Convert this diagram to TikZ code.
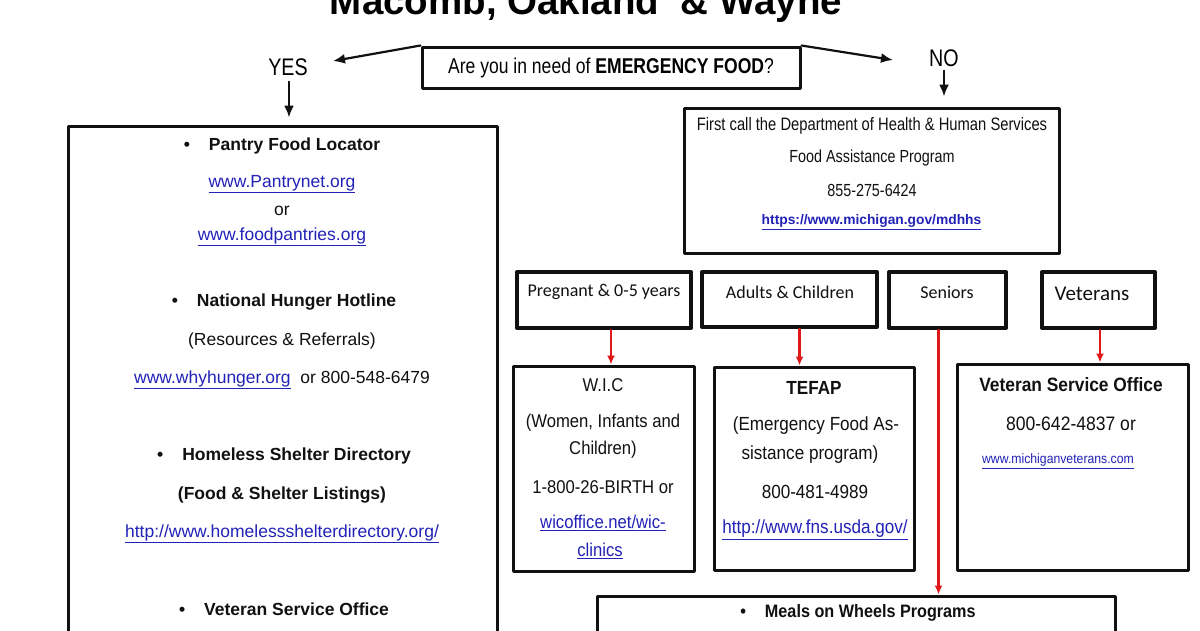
\documentclass[tikz,border=0pt]{standalone}
\usepackage{fontspec}
\setmainfont{Liberation Sans}
\newfontfamily\narrowsans{Liberation Sans}[FakeStretch=0.82]
\newfontfamily\semisans{Liberation Sans}[FakeStretch=0.9]
\newfontfamily\calibri{Carlito}
\usetikzlibrary{arrows.meta,calc}
\definecolor{foodInk}{HTML}{111111}
\definecolor{foodBlue}{HTML}{2222B8}
\definecolor{foodRed}{HTML}{E01818}
\newcommand{\weblink}[1]{{\color{foodBlue}\underline{#1}}}

\begin{document}
\begin{tikzpicture}[x=1pt,y=-1pt,>=Latex,line cap=round,line join=round]
\clip (0,0) rectangle (1200,630);
\path[fill=white] (0,0) rectangle (1200,630);
\tikzset{box/.style={draw=foodInk,line width=3pt,inner sep=0pt},catbox/.style={draw=foodInk,line width=4pt,inner sep=0pt},blackarrow/.style={draw=foodInk,line width=2.2pt,-{Latex[length=12pt,width=10pt]}},redarrow/.style={draw=foodRed,line width=2.4pt,-{Latex[length=9pt,width=8pt]}},txt/.style={inner sep=0pt,text=foodInk,font=\fontsize{17.5}{21}\selectfont},head/.style={txt,font=\fontsize{17.5}{21}\selectfont\bfseries},cat/.style={inner sep=0pt,text=foodInk,font=\calibri\fontsize{18}{21}\selectfont}}
% title and question
\node[anchor=base,inner sep=0pt,font=\fontsize{38.5}{40}\selectfont\bfseries] (title) at (586,14) {Macomb, Oakland\ \ \& Wayne};
\node[box,minimum width=378,minimum height=41,font=\narrowsans\fontsize{21.4}{24}\selectfont] (question) at (611,67.5) {Are you in need of \textbf{EMERGENCY FOOD}?};
\node[inner sep=0pt,font=\narrowsans\fontsize{24}{26}\selectfont] (yes) at (288,67) {YES};
\node[inner sep=0pt,font=\narrowsans\fontsize{24}{26}\selectfont] (no) at (944,58) {NO};
\coordinate (yestip) at (333,61); \coordinate (notip) at (893,60);
\draw[blackarrow] (question.north west) -- (yestip);
\draw[blackarrow] (question.north east) -- (notip);
% YES side
\node[box,minimum width=429,minimum height=560] (pantries) at (282.5,406) {};
\draw[blackarrow,shorten >=7pt] ([xshift=1pt,yshift=-6pt]yes.south) -- ([xshift=1pt]yes.south |- pantries.north);
\node[head] (pantryhead) at (282,146) {\textbullet\hspace{19pt}Pantry Food Locator};
\node[txt] (pantryurl) at (282,184) {\weblink{www.Pantrynet.org}};
\node[txt] (pantryor) at (282,211) {or};
\node[txt] (pantryalt) at (282,237) {\weblink{www.foodpantries.org}};
\node[head] (hungerhead) at (284,302) {\textbullet\hspace{19pt}National Hunger Hotline};
\node[txt] (hungernote) at (282,341) {(Resources \& Referrals)};
\node[txt] (hungerline) at (282,380) {\weblink{www.whyhunger.org}\ \ or 800-548-6479};
\node[head] (shelterhead) at (284,456) {\textbullet\hspace{19pt}Homeless Shelter Directory};
\node[head] (shelternote) at (282,495) {(Food \& Shelter Listings)};
\node[txt] (shelterurl) at (282,534) {\weblink{http://www.homelessshelterdirectory.org/}};
\node[head] (veteranhead) at (284,609) {\textbullet\hspace{19pt}Veteran Service Office};
% NO side
\node[box,minimum width=375,minimum height=145] (dhhs) at (871.5,180.5) {};
\draw[blackarrow,shorten >=10pt] ([yshift=-4pt]no.south) -- (no.south |- dhhs.north);
\node[txt,font=\narrowsans\fontsize{18}{21}\selectfont] (dhhshead) at (872,126) {First call the Department of Health \& Human Services};
\node[txt,font=\narrowsans\fontsize{17.5}{21}\selectfont] (dhhsprog) at (872,158) {Food Assistance Program};
\node[txt,font=\narrowsans\fontsize{17.5}{21}\selectfont] (dhhsphone) at (872,190) {855-275-6424};
\node[txt,font=\fontsize{13.8}{16}\selectfont\bfseries] (dhhsurl) at (871.5,222) {\weblink{https://www.michigan.gov/mdhhs}};
% groups
\node[catbox,minimum width=174,minimum height=56] (preg) at (604,300) {};
\node[catbox,minimum width=175,minimum height=55] (adults) at (789.5,299.5) {};
\node[catbox,minimum width=117,minimum height=56] (seniors) at (947.5,300) {};
\node[catbox,minimum width=113,minimum height=56] (vets) at (1098.5,300) {};
\node[cat] (pregtxt) at (604,292) {Pregnant \& 0-5 years};
\node[cat] (adultstxt) at (790,292) {Adults \& Children};
\node[cat] (seniorstxt) at (947,292) {Seniors};
\node[cat,font=\calibri\fontsize{21}{24}\selectfont] (vetstxt) at (1092,294) {Veterans};
% programs
\node[box,minimum width=181,minimum height=205] (wic) at (603.5,468.5) {};
\node[box,minimum width=200,minimum height=203] (tefap) at (814,468.5) {};
\node[box,minimum width=231,minimum height=206] (vso) at (1072.5,467) {};
\node[box,minimum width=518,minimum height=68] (meals) at (856,630) {};
\draw[redarrow] ([xshift=7pt]preg.south) -- ([xshift=7pt]preg.south |- wic.north);
\draw[redarrow] ([xshift=10pt]adults.south) -- ([xshift=10pt]adults.south |- tefap.north);
\draw[redarrow] ([xshift=-9pt]seniors.south) -- ([xshift=-9pt]seniors.south |- meals.north);
\draw[redarrow] ([xshift=1.5pt]vets.south) -- ([xshift=1.5pt]vets.south |- vso.north);
\tikzset{prog/.style={inner sep=0pt,text=foodInk,font=\semisans\fontsize{18.5}{21}\selectfont}}
\node[prog] (wichead) at (603,385) {W.I.C};
\node[prog] (wicname) at (603,423) {(Women, Infants and};
\node[prog] (wicname2) at (603,450) {Children)};
\node[prog] (wicphone) at (603,487) {1-800-26-BIRTH or};
\node[prog] (wicurl) at (603,523) {\weblink{wicoffice.net/wic-}};
\node[prog] (wicurl2) at (600,551) {\weblink{clinics}};
\node[prog,font=\semisans\fontsize{19}{21}\selectfont\bfseries] (tefaphead) at (814,388) {TEFAP};
\node[prog,font=\semisans\fontsize{19}{21}\selectfont] (tefapname) at (816,426) {(Emergency Food As-};
\node[prog,font=\semisans\fontsize{19}{21}\selectfont] (tefapname2) at (810,455) {sistance program)};
\node[prog,font=\semisans\fontsize{19}{21}\selectfont] (tefapphone) at (815,492) {800-481-4989};
\node[prog,font=\semisans\fontsize{19}{21}\selectfont] (tefapurl) at (815,530) {\weblink{http://www.fns.usda.gov/}};
\node[prog,font=\semisans\fontsize{19.3}{21}\selectfont\bfseries] (vsohead) at (1071,385) {Veteran Service Office};
\node[prog,font=\semisans\fontsize{19.5}{21}\selectfont] (vsophone) at (1071,424) {800-642-4837 or};
\node[prog,font=\semisans\fontsize{13.6}{16}\selectfont] (vsourl) at (1058,461) {\weblink{www.michiganveterans.com}};
\node[prog,font=\semisans\fontsize{18}{21}\selectfont\bfseries] (mealshead) at (858,613) {\textbullet\hspace{19pt}Meals on Wheels Programs};
\end{tikzpicture}
\end{document}
